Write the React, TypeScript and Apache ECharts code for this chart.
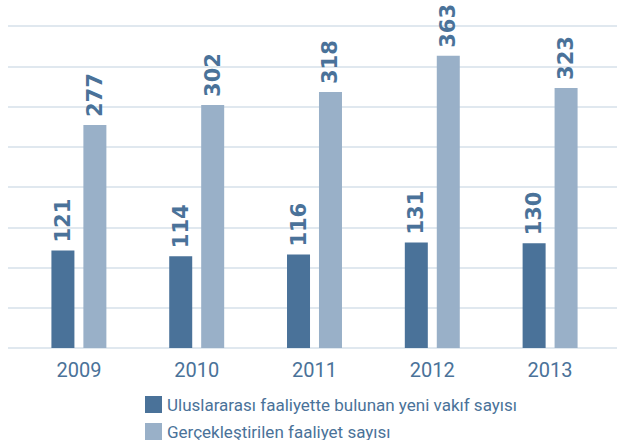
import React, { useEffect, useRef } from "react";
import * as echarts from "echarts";

const categories = ["2009", "2010", "2011", "2012", "2013"];
const newFoundations = [121, 114, 116, 131, 130];
const activities = [277, 302, 318, 363, 323];
const seriesNames = [
  "Uluslararası faaliyette bulunan yeni vakıf sayısı",
  "Gerçekleştirilen faaliyet sayısı",
];

const DARK = "#4a7299";
const LIGHT = "#99b0c8";
const GRID = "#d6e0ea";
const FONT = "'Liberation Sans Narrow', 'Roboto', sans-serif";

export default function App() {
  const ref = useRef<HTMLDivElement>(null);
  useEffect(() => {
    if (!ref.current) return;
    const chart = echarts.init(ref.current, undefined, { renderer: "svg" });
    const label = {
      show: true,
      position: "top",
      rotate: 90,
      align: "left",
      verticalAlign: "middle",
      distance: 8,
      color: DARK,
      fontSize: 21,
      fontWeight: "bold",
      fontFamily: "'DejaVu Sans', sans-serif",
    };
    const legendBase = {
      orient: "horizontal",
      left: 140,
      itemWidth: 17,
      itemHeight: 17,
      itemGap: 10,
      icon: "rect",
      textStyle: { color: DARK, fontSize: 17, fontFamily: FONT },
    };
    chart.setOption({
      animation: false,
      grid: [
        { left: 8, right: 0, top: 26, bottom: 92 },
        { left: 20, right: 8, top: 26, bottom: 92 },
      ],
      legend: [
        { ...legendBase, top: 391, data: [seriesNames[0]] },
        { ...legendBase, top: 418, data: [seriesNames[1]] },
      ],
      xAxis: [
        {
          type: "category",
          gridIndex: 0,
          data: categories,
          show: false,
        },
        {
          type: "category",
          gridIndex: 1,
          data: categories,
          axisLine: { show: false },
          axisTick: { show: false },
          axisLabel: {
            color: DARK,
            fontSize: 20,
            fontFamily: FONT,
            margin: 12,
          },
        },
      ],
      yAxis: [
        {
          type: "value",
          gridIndex: 0,
          min: 0,
          max: 400,
          interval: 50,
          axisLine: { show: false },
          axisTick: { show: false },
          axisLabel: { show: false },
          splitLine: { lineStyle: { color: GRID, width: 1.5 } },
        },
        {
          type: "value",
          gridIndex: 1,
          min: 0,
          max: 400,
          interval: 50,
          show: false,
          splitLine: { show: false },
        },
      ],
      series: [
        {
          name: seriesNames[0],
          type: "bar",
          xAxisIndex: 1,
          yAxisIndex: 1,
          data: newFoundations,
          barWidth: 23,
          barGap: "39%",
          itemStyle: { color: DARK },
          label,
        },
        {
          name: seriesNames[1],
          type: "bar",
          xAxisIndex: 1,
          yAxisIndex: 1,
          data: activities,
          barWidth: 23,
          barGap: "39%",
          itemStyle: { color: LIGHT },
          label,
        },
      ],
    });
    return () => chart.dispose();
  }, []);
  return (
    <div
      ref={ref}
      style={{ position: "fixed", left: 0, top: 0, width: 617, height: 440, background: "#fff" }}
    />
  );
}
